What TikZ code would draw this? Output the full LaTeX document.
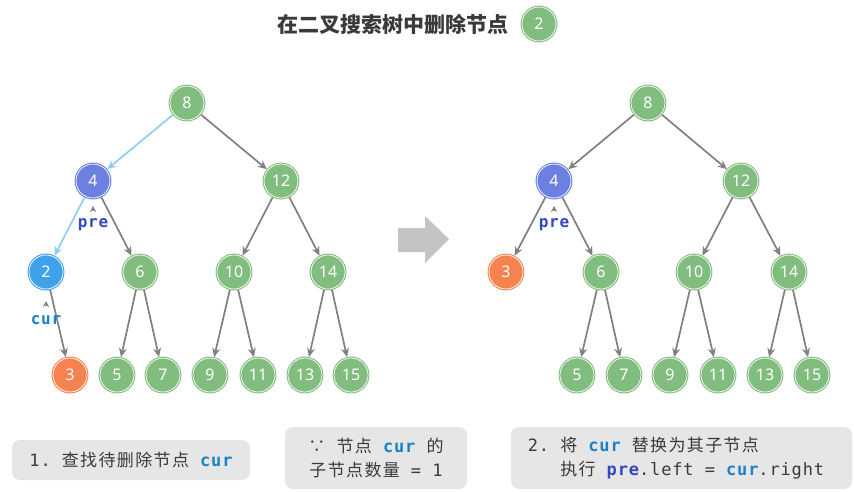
\documentclass[tikz,border=0pt]{standalone}
\usepackage{fontspec}
\setsansfont{Noto Sans}
\setmonofont[LetterSpace=5]{DejaVu Sans Mono}
\newfontfamily\cjk{Noto Sans CJK SC}
\newfontfamily\cjknote[LetterSpace=8]{Noto Sans CJK SC}
\usetikzlibrary{arrows.meta}

\newcommand{\kwcur}{{\bfseries\color{curtext}cur}}
\newcommand{\kwpre}{{\bfseries\color{pretext}pre}}

\begin{document}
\begin{tikzpicture}[x=1pt,y=-1pt,line width=1.7pt,
  vert/.style={circle,minimum size=34pt,inner sep=0pt,outer sep=1.4pt,
    draw=#1,fill=#1,double=white,double distance=0.7pt,line width=1.1pt,
    text=white,font=\sffamily\fontsize{16}{16}\selectfont},
  link/.style={draw=edgegray,-{Stealth[length=9pt,width=8pt]}},
  hot/.style={link,draw=edgeblue},
  pin/.style={draw=edgegray,line width=0.6pt,-{Stealth[length=6pt,width=6pt]}},
  tag/.style={inner sep=1pt,font=\ttfamily\bfseries\fontsize{16}{16}\selectfont},
  note/.style={fill=notebg,rounded corners=8pt,text=notetext,
    font=\ttfamily\fontsize{17}{24}\selectfont}]
  \definecolor{green}{HTML}{82BD80}
  \definecolor{preblue}{HTML}{6B80E0}
  \definecolor{curblue}{HTML}{3FA2E8}
  \definecolor{orange}{HTML}{F5834F}
  \definecolor{edgegray}{HTML}{808080}
  \definecolor{edgeblue}{HTML}{8ECDF5}
  \definecolor{curtext}{HTML}{1C82C8}
  \definecolor{pretext}{HTML}{3448C4}
  \definecolor{notebg}{HTML}{E6E6E6}
  \definecolor{notetext}{HTML}{3A3A3A}
  \definecolor{bigarrow}{HTML}{C4C4C4}
  \useasboundingbox (0,0) rectangle (854,491);

  % title
  \node[font=\cjk\bfseries\fontsize{21}{21}\selectfont,text=notetext] (title) at (393,24) {在二叉搜索树中删除节点};
  \node[vert=green] (goal) at (539,24) {2};

  % left tree: find cur
  \node[vert=green] (a8) at (187,103) {8};
  \node[vert=preblue] (a4) at (93,181) {4};
  \node[vert=green] (a12) at (281,181) {12};
  \node[vert=curblue] (a2) at (46,272) {2};
  \node[vert=green] (a6) at (140,272) {6};
  \node[vert=green] (a10) at (234,272) {10};
  \node[vert=green] (a14) at (328,272) {14};
  \node[vert=orange] (a3) at (70,375) {3};
  \node[vert=green] (a5) at (117,375) {5};
  \node[vert=green] (a7) at (163,375) {7};
  \node[vert=green] (a9) at (210,375) {9};
  \node[vert=green] (a11) at (258,375) {11};
  \node[vert=green] (a13) at (305,375) {13};
  \node[vert=green] (a15) at (351,375) {15};
  \draw[hot] (a8) -- (a4);
  \draw[hot] (a4) -- (a2);
  \foreach \p/\c in {a8/a12,a4/a6,a12/a10,a12/a14,a2/a3,a6/a5,a6/a7,a10/a9,a10/a11,a14/a13,a14/a15}
    \draw[link] (\p) -- (\c);
  \node[tag,text=pretext] (apre) at (93,225) {pre};
  \draw[pin] (93,211) -- (93,206);
  \node[tag,text=curtext] (acur) at (46,320) {cur};
  \draw[pin] (46,306) -- (46,301);

  % step arrow
  \fill[bigarrow] (398,228) -- (425,228) -- (425,216) -- (449,239) -- (425,263) -- (425,252) -- (398,252) -- cycle;

  % right tree: pre.left = cur.right
  \node[vert=green] (b8) at (648,103) {8};
  \node[vert=preblue] (b4) at (554,181) {4};
  \node[vert=green] (b12) at (741,181) {12};
  \node[vert=orange] (b3) at (506,272) {3};
  \node[vert=green] (b6) at (601,272) {6};
  \node[vert=green] (b10) at (694,272) {10};
  \node[vert=green] (b14) at (789,272) {14};
  \node[vert=green] (b5) at (577,375) {5};
  \node[vert=green] (b7) at (624,375) {7};
  \node[vert=green] (b9) at (670,375) {9};
  \node[vert=green] (b11) at (718,375) {11};
  \node[vert=green] (b13) at (765,375) {13};
  \node[vert=green] (b15) at (812,375) {15};
  \foreach \p/\c in {b8/b4,b8/b12,b4/b3,b4/b6,b12/b10,b12/b14,b6/b5,b6/b7,b10/b9,b10/b11,b14/b13,b14/b15}
    \draw[link] (\p) -- (\c);
  \node[tag,text=pretext] (bpre) at (554,225) {pre};
  \draw[pin] (554,211) -- (554,206);

  % notes
  \node[note,minimum width=238pt,minimum height=40pt] (step1) at (131,460)
    {1. {\cjknote 查找待删除节点} \kwcur};
  \node[note,minimum width=182pt,minimum height=62pt,align=center] (why) at (376,458)
    {{\cjknote ∵} {\cjknote 节点} \kwcur{} {\cjknote 的}\\ {\cjknote 子节点数量} = 1};
  \fill[notebg,rounded corners=8pt] (511,427) rectangle (852,489);
  \node[note,fill=none,inner sep=0pt,align=left,anchor=west] (step2) at (527,458)
    {2. {\cjknote 将} \kwcur{} {\cjknote 替换为其子节点}\\\hphantom{2. }{\cjknote 执行} \kwpre.left = \kwcur.right};
\end{tikzpicture}
\end{document}
